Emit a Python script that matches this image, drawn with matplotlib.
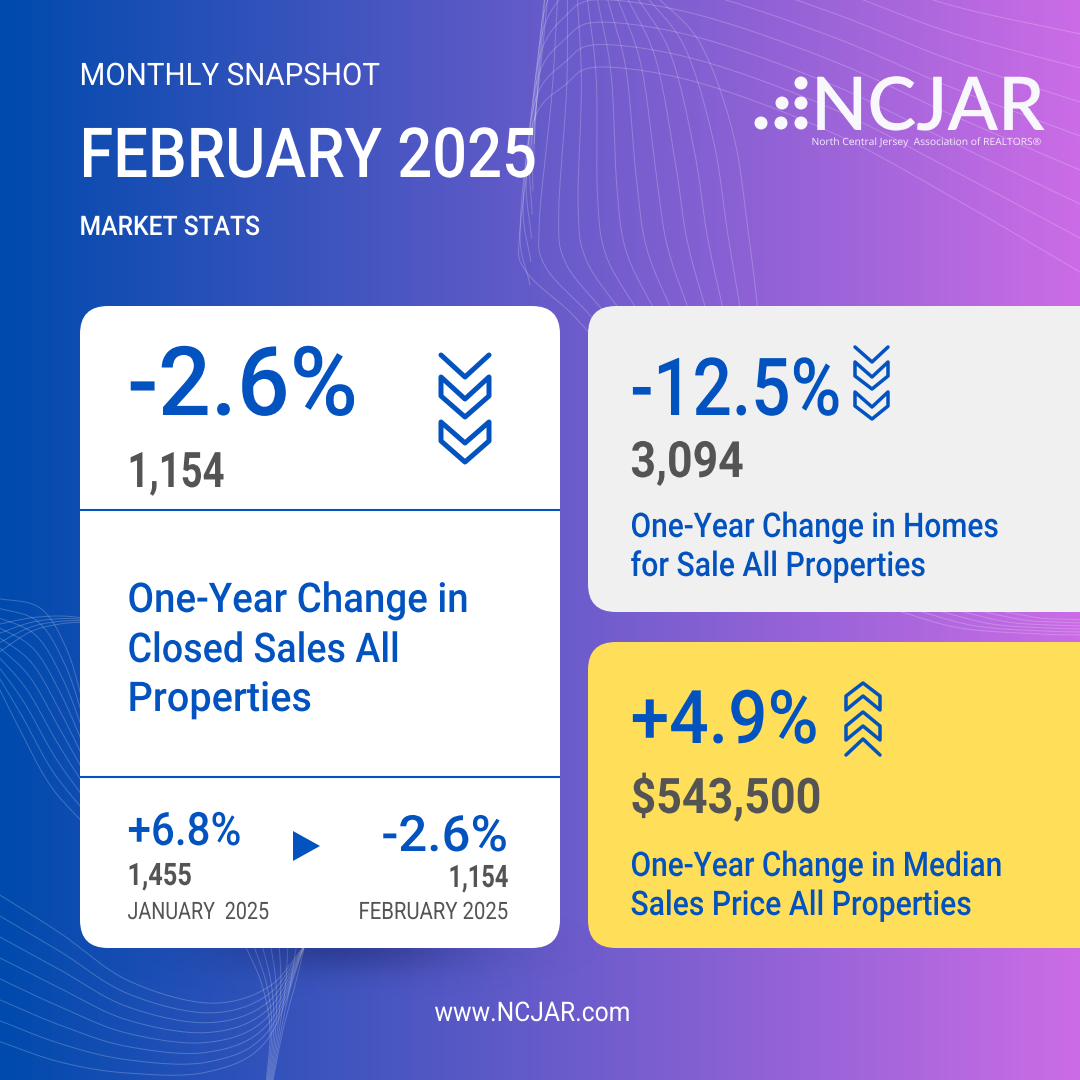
import numpy as np
import matplotlib
matplotlib.use('Agg')
import matplotlib.pyplot as plt
from matplotlib.colors import LinearSegmentedColormap
from matplotlib.patches import FancyBboxPatch, Polygon, Circle
from matplotlib.patheffects import AbstractPathEffect
from matplotlib.transforms import Affine2D

plt.rcParams['font.family'] = ['Roboto', 'DejaVu Sans']

BLUE = '#0253bf'
GREY = '#545454'

# stats shown on the cards
main_pct = '-2.6%'
main_count = '1,154'
main_title = ['One-Year Change in', 'Closed Sales All', 'Properties']
prev_pct, prev_count, prev_month = '+6.8%', '1,455', 'JANUARY  2025'
cur_pct, cur_count, cur_month = '-2.6%', '1,154', 'FEBRUARY 2025'
homes_pct, homes_count = '-12.5%', '3,094'
homes_title = ['One-Year Change in Homes', 'for Sale All Properties']
price_pct, price_count = '+4.9%', '$543,500'
price_title = ['One-Year Change in Median', 'Sales Price All Properties']

# chevron outlines, pixel coords of the picture
big_down = [
    ([(441, 355), (465, 377), (489, 355)], False),
    ([(441, 377), (465, 399), (489, 377), (489, 396), (465, 417), (441, 396)], True),
    ([(441, 422), (465, 443), (489, 422), (489, 441), (465, 462), (441, 441)], True),
]
small_down = [
    ([(855, 347), (872, 362), (888, 347)], False),
    ([(855, 362), (872, 377), (888, 362), (888, 376), (872, 389), (855, 376)], True),
    ([(855, 392), (872, 407), (888, 392), (888, 406), (872, 419), (855, 406)], True),
]
small_up = [
    ([(846, 710), (846, 696), (863, 683), (880, 696), (880, 710), (863, 696)], True),
    ([(846, 740), (846, 726), (863, 712), (880, 726), (880, 740), (863, 726)], True),
    ([(846, 755), (863, 739), (880, 755)], False),
]
logo_dots = [(801, 83), (782, 103), (801, 103), (761, 123), (781, 123), (801, 123)]

# background wave bundles: two edge curves and how many lines between them
waves = [
    ([(530, 285), (520, 232), (533, 123), (565, 85), (600, 67), (700, 83), (833, 133), (950, 196), (1085, 275)],
     [(535, 120), (542, 40), (548, -30), (565, -75), (600, -90), (700, -75), (833, -35), (950, 5), (1085, 35)], 8),
    ([(548, -5), (537, 100), (520, 230), (525, 270), (570, 312), (600, 345)],
     [(655, -5), (700, 43), (733, 133), (748, 230), (758, 312), (760, 345)], 12),
    ([(-5, 680), (20, 730), (50, 785), (85, 825)],
     [(-5, 598), (40, 608), (67, 650), (85, 710)], 10),
    ([(-5, 655), (30, 632), (60, 624), (85, 622)],
     [(-5, 625), (30, 618), (60, 616), (85, 618)], 4),
    ([(-5, 892), (60, 933), (127, 980), (207, 1003), (267, 988), (305, 945)],
     [(-5, 1040), (60, 1062), (127, 1073), (207, 1072), (267, 1040), (305, 945)], 8),
    ([(245, 945), (262, 985), (270, 1030), (266, 1085)],
     [(305, 945), (295, 985), (283, 1030), (272, 1085)], 8),
    ([(895, 610), (960, 628), (1040, 634), (1085, 635)],
     [(995, 610), (1040, 618), (1060, 619), (1085, 620)], 6),
]


class FitWidth(AbstractPathEffect):
    # squeezes the glyph outlines so the ink is as wide as asked
    def __init__(self, width):
        self.width = width

    def draw_path(self, renderer, gc, tpath, affine, rgbFace=None):
        ext = tpath.get_extents()
        sx = self.width / (ext.width * affine.get_matrix()[0, 0])
        fit = Affine2D().scale(sx, 1) + affine
        renderer.draw_path(gc, tpath, fit, rgbFace)


def smooth(pts, steps=30):
    # catmull-rom through the waypoints
    p = np.vstack([2 * pts[0] - pts[1], pts, 2 * pts[-1] - pts[-2]])
    out = []
    for i in range(1, len(p) - 2):
        t = np.linspace(0, 1, steps)[:, None]
        out.append(0.5 * (2 * p[i] + (p[i + 1] - p[i - 1]) * t
                          + (2 * p[i - 1] - 5 * p[i] + 4 * p[i + 1] - p[i + 2]) * t ** 2
                          + (3 * p[i] - p[i - 1] - 3 * p[i + 1] + p[i + 2]) * t ** 3))
    return np.vstack(out)


def label(x0, x1, y, s, size, color=BLUE, weight='normal', family=None):
    # size in pixels, x0 and x1 are the ink edges in the picture
    # the -1.5 and 0.988 are by eye, rendered ink came out a bit right and wide
    t = ax.text(x0 - 1.5, y, s, fontsize=size * 0.72, color=color, fontweight=weight, va='baseline', zorder=6)
    if family:
        t.set_family(family)
    t.set_path_effects([FitWidth((x1 - x0) * 0.988)])


def card(x0, y0, x1, y1, color):
    ax.add_patch(FancyBboxPatch((x0, y0), x1 - x0, y1 - y0, boxstyle='round,pad=0,rounding_size=28',
                                fc=color, ec='none', zorder=4))


def chevrons(shapes, lw):
    for pts, closed in shapes:
        ax.add_patch(Polygon(pts, closed=closed, fill=False, ec=BLUE, lw=lw * 0.72,
                             joinstyle='round', capstyle='round', zorder=5))


fig = plt.figure(figsize=(10.8, 10.8), dpi=100)
ax = fig.add_axes([0, 0, 1, 1])

cmap = LinearSegmentedColormap.from_list('bg', ['#004aad', '#cb6ce6'])
ax.imshow(np.linspace(0, 1, 540)[None, :], cmap=cmap, extent=(0, 1080, 1080, 0), aspect='auto', zorder=0)

for low, high, n in waves:
    low, high = np.array(low, float), np.array(high, float)
    for f in np.linspace(0, 1, n):
        line = smooth(low + (high - low) * f)
        ax.plot(line[:, 0], line[:, 1], color='white', alpha=0.22, lw=0.7, zorder=1)

# soft shadow under the white card
xx, yy = np.meshgrid(np.arange(0, 1080, 4), np.arange(900, 1040, 2))
shade = np.zeros(xx.shape + (4,))
shade[..., 2] = 0.15
shade[..., 3] = 0.27 * np.exp(-((xx - 345) / 125.0) ** 2 - ((yy - 945) / 26.0) ** 2)
ax.imshow(shade, extent=(0, 1080, 1040, 900), aspect='auto', zorder=2)

ax.set_xlim(0, 1080)
ax.set_ylim(1080, 0)
ax.axis('off')

card(80, 306, 560, 948, 'white')
card(588, 306, 1130, 612, '#f0f0f0')
card(588, 642, 1130, 948, '#ffde59')
ax.plot([80, 560], [510, 510], color=BLUE, lw=1.5, zorder=5, solid_capstyle='butt')
ax.plot([80, 560], [777, 777], color=BLUE, lw=1.5, zorder=5, solid_capstyle='butt')

# header
label(81, 382, 85, 'MONTHLY SNAPSHOT', 31, 'white')
label(81, 537, 177, 'FEBRUARY 2025', 69, 'white', 'medium')
label(81, 261, 235, 'MARKET STATS', 27, 'white', 'medium')

# logo
for c in logo_dots:
    ax.add_patch(Circle(c, 6.5, fc='#f8f8fc', ec='none', zorder=6))
label(812.5, 1042.5, 130, 'NCJAR', 74, '#f8f8fc', 'semibold', 'Lato')
label(813, 1044, 145, 'North Central Jersey  Association of REALTORS®', 10, '#f4eefc', 'medium', 'Open Sans')

# closed sales card
label(129, 355, 415, main_pct, 96, weight='medium')
label(129, 223, 487, main_count, 49, GREY, 'bold')
chevrons(big_down, 5)
for y, x1, s in zip([612, 662, 711], [470, 400, 311], main_title):
    label(129, x1, y, s, 41, weight='medium')
label(129, 241, 845, prev_pct, 46, weight='medium')
label(129, 191, 885, prev_count, 31, GREY, 'bold')
label(129, 271, 919, prev_month, 24, GREY)
ax.add_patch(Polygon([(293, 831), (293, 861), (320, 846)], fc=BLUE, ec='none', zorder=5))
label(383, 507, 851, cur_pct, 50, weight='medium')
label(450, 508, 887, cur_count, 31, GREY, 'bold')
label(360, 509, 919, cur_month, 24, GREY)

# homes for sale card
label(632, 840, 415, homes_pct, 80, weight='medium')
label(632, 744, 477, homes_count, 50, GREY, 'bold')
chevrons(small_down, 3.5)
for y, x1, s in zip([537, 576], [1002, 929], homes_title):
    label(632, x1, y, s, 34, weight='medium')

# median price card
label(632, 817, 743, price_pct, 74, weight='medium')
label(632, 821, 813, price_count, 49, GREY, 'bold')
chevrons(small_up, 3.5)
for y, x1, s in zip([876, 915], [1005, 975], price_title):
    label(632, x1, y, s, 34, weight='medium')

label(436, 632, 1021, 'www.NCJAR.com', 27, 'white')

fig.savefig('out.png', dpi=100)
